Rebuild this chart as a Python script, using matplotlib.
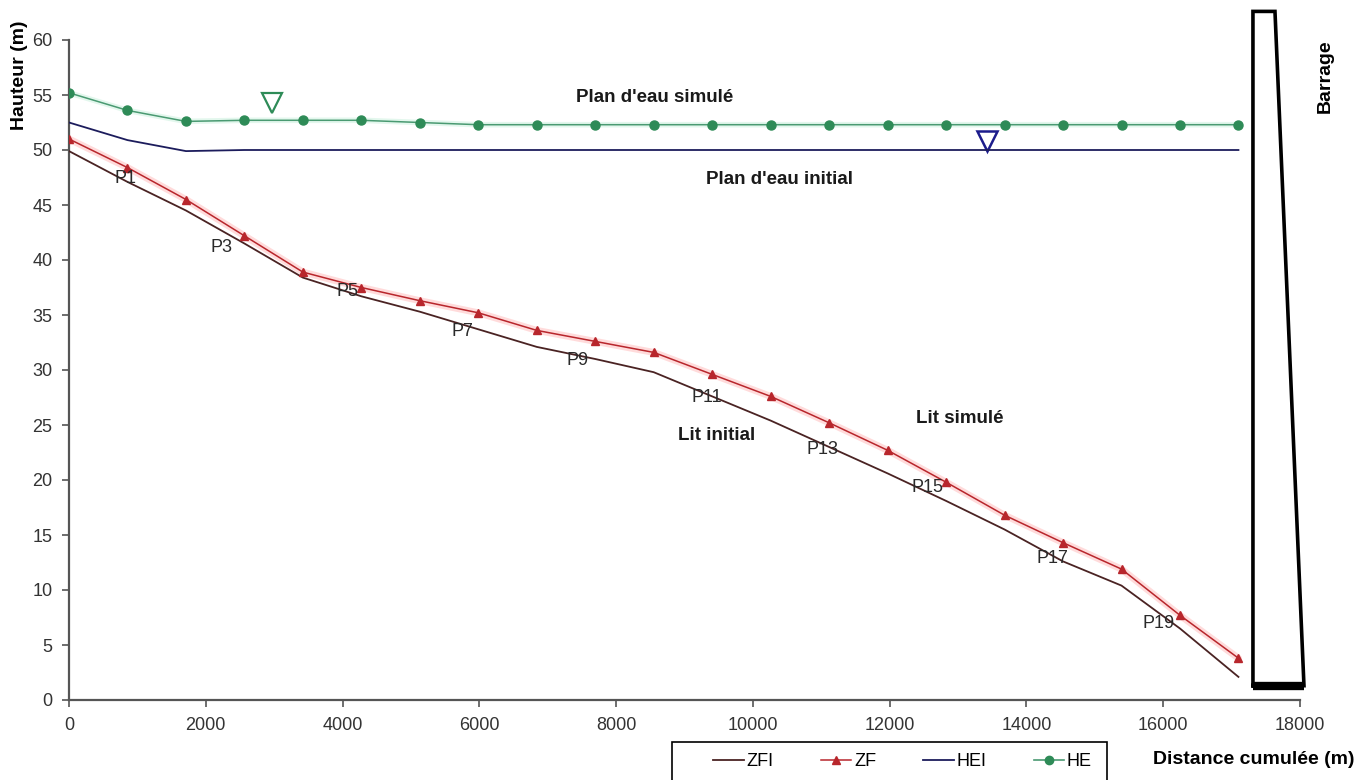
import matplotlib
matplotlib.use("Agg")
import matplotlib.pyplot as plt
from matplotlib.lines import Line2D
from matplotlib.patches import Rectangle

plt.rcParams['font.family'] = ['Liberation Sans', 'DejaVu Sans']

# ---------------- data ----------------
distance = [0, 855, 1710, 2565, 3420, 4275, 5130, 5985, 6840, 7695, 8550,
            9405, 10260, 11115, 11970, 12825, 13680, 14535, 15390, 16245, 17100]
zfi = [49.9, 47.1, 44.5, 41.5, 38.4, 36.7, 35.3, 33.7, 32.1, 31.0, 29.8,
       27.6, 25.4, 23.0, 20.6, 18.1, 15.5, 12.6, 10.4, 6.5, 2.1]
zf = [51.0, 48.4, 45.5, 42.2, 38.9, 37.5, 36.3, 35.2, 33.6, 32.6, 31.6,
      29.6, 27.6, 25.2, 22.7, 19.8, 16.8, 14.3, 11.9, 7.7, 3.8]
hei = [52.5, 50.9, 49.9, 50.0, 50.0, 50.0, 50.0, 50.0, 50.0, 50.0, 50.0,
       50.0, 50.0, 50.0, 50.0, 50.0, 50.0, 50.0, 50.0, 50.0, 50.0]
he = [55.2, 53.6, 52.6, 52.7, 52.7, 52.7, 52.5, 52.3, 52.3, 52.3, 52.3,
      52.3, 52.3, 52.3, 52.3, 52.3, 52.3, 52.3, 52.3, 52.3, 52.3]

profile_labels = ['P1', 'P3', 'P5', 'P7', 'P9', 'P11', 'P13', 'P15', 'P17', 'P19']
profile_x = [819, 2237, 4079, 5760, 7442, 9327, 11023, 12558, 14386, 15936]
profile_y = [47.4, 41.1, 37.1, 33.5, 30.9, 27.5, 22.8, 19.3, 12.9, 7.0]

x_ticks = [0, 2000, 4000, 6000, 8000, 10000, 12000, 14000, 16000, 18000]
y_ticks = [0, 5, 10, 15, 20, 25, 30, 35, 40, 45, 50, 55, 60]

# dam outline (data coords)
dam_x = [17312, 17312, 17634, 18058]
dam_y = [1.3, 62.6, 62.6, 1.3]

# ---------------- figure ----------------
fig = plt.figure(figsize=(13.69, 7.80), dpi=100)
ax = fig.add_axes([69/1369, 1-700/780, (1300-69)/1369, 660/780])

c_zfi = '#4a2323'
c_zf = '#b8262c'
c_hei = '#1c1c5c'
c_he = '#4a9a72'
c_he_m = '#2e8b57'

# glows
ax.plot(distance, zf, color='#ffc4c4', lw=5, alpha=0.6, solid_capstyle='round', zorder=1)
ax.plot(distance, he, color='#c8f0dc', lw=4, alpha=0.5, solid_capstyle='round', zorder=1)

ax.plot(distance, zfi, color=c_zfi, lw=1.3, label='ZFI', zorder=3)
ax.plot(distance, zf, color=c_zf, lw=1.1, marker='^', ms=6, mfc=c_zf, mec=c_zf, label='ZF', zorder=3)
ax.plot(distance, hei, color=c_hei, lw=1.3, label='HEI', zorder=3)
ax.plot(distance, he, color=c_he, lw=1.1, marker='o', ms=6.5, mfc=c_he_m, mec=c_he_m, label='HE', zorder=3)

# water level symbols
ax.plot([2968], [54.3], marker='v', ms=15, mfc='none', mec='#2e8b57', mew=1.6, ls='none', clip_on=False)
ax.plot([13421], [50.8], marker='v', ms=15, mfc='none', mec='#1c1c8c', mew=1.8, ls='none', clip_on=False)

# dam
ax.plot(dam_x + [dam_x[0]], dam_y + [dam_y[0]], color='black', lw=2.6, clip_on=False,
        solid_joinstyle='miter', zorder=4)
ax.plot([dam_x[0], dam_x[3]], [dam_y[0], dam_y[3]], color='black', lw=6, clip_on=False,
        solid_capstyle='butt', zorder=4)

# profile labels
for lab, px, py in zip(profile_labels, profile_x, profile_y):
    ax.text(px, py, lab, fontsize=13, color='#2a2a2a', ha='center', va='center', zorder=5)

bold = dict(fontsize=13.5, fontweight='bold', color='#1a1a1a', ha='center', va='center')
ax.text(8567, 54.8, "Plan d'eau simulé", **bold)
ax.text(10395, 47.3, "Plan d'eau initial", **bold)
ax.text(13026, 25.6, "Lit simulé", **bold)
ax.text(9474, 24.0, "Lit initial", **bold)

# axes styling
ax.set_xlim(0, 18000)
ax.set_ylim(0, 60)
ax.set_xticks(x_ticks)
ax.set_yticks(y_ticks)
ax.set_xticklabels([str(v) for v in x_ticks])
ax.set_yticklabels([str(v) for v in y_ticks])
for s in ['top', 'right']:
    ax.spines[s].set_visible(False)
for s in ['left', 'bottom']:
    ax.spines[s].set_color('#555555')
    ax.spines[s].set_linewidth(1.6)
ax.tick_params(axis='both', direction='out', length=5, width=1.2, color='#555555',
               labelsize=13, labelcolor='#333333')
ax.tick_params(axis='x', pad=7)
ax.tick_params(axis='y', pad=7)

fig.text(20/1369, 1-75/780, 'Hauteur (m)', rotation=90, fontsize=14, fontweight='bold',
         ha='center', va='center')
fig.text(1254/1369, 1-760/780, 'Distance cumulée (m)', fontsize=14, fontweight='bold',
         ha='center', va='center')
fig.text(1325/1369, 1-76/780, 'Barrage', rotation=90, fontsize=14, fontweight='bold',
         ha='center', va='center')

# legend (frame drawn separately so it runs off the bottom edge like the original)
handles = [
    Line2D([], [], color=c_zfi, lw=1.3),
    Line2D([], [], color=c_zf, lw=1.1, marker='^', ms=6, mfc=c_zf, mec=c_zf),
    Line2D([], [], color=c_hei, lw=1.3),
    Line2D([], [], color=c_he, lw=1.2, marker='o', ms=6, mfc=c_he_m, mec=c_he_m),
]
leg = fig.legend(handles, ['ZFI', 'ZF', 'HEI', 'HE'], ncol=4, loc='center left',
                 bbox_to_anchor=(713/1369, 1-762/780, (1092-713)/1369, 0.0), mode='expand',
                 borderaxespad=0.0, borderpad=0.0, frameon=False,
                 fontsize=13, handlelength=1.7, handletextpad=0.15, columnspacing=1.0)
fig.patches.append(Rectangle((672/1369, -0.02), (1107-672)/1369, (780-742)/780 + 0.02,
                             transform=fig.transFigure, fill=False, edgecolor='black',
                             linewidth=1.2))

fig.savefig('out.png', dpi=100)
